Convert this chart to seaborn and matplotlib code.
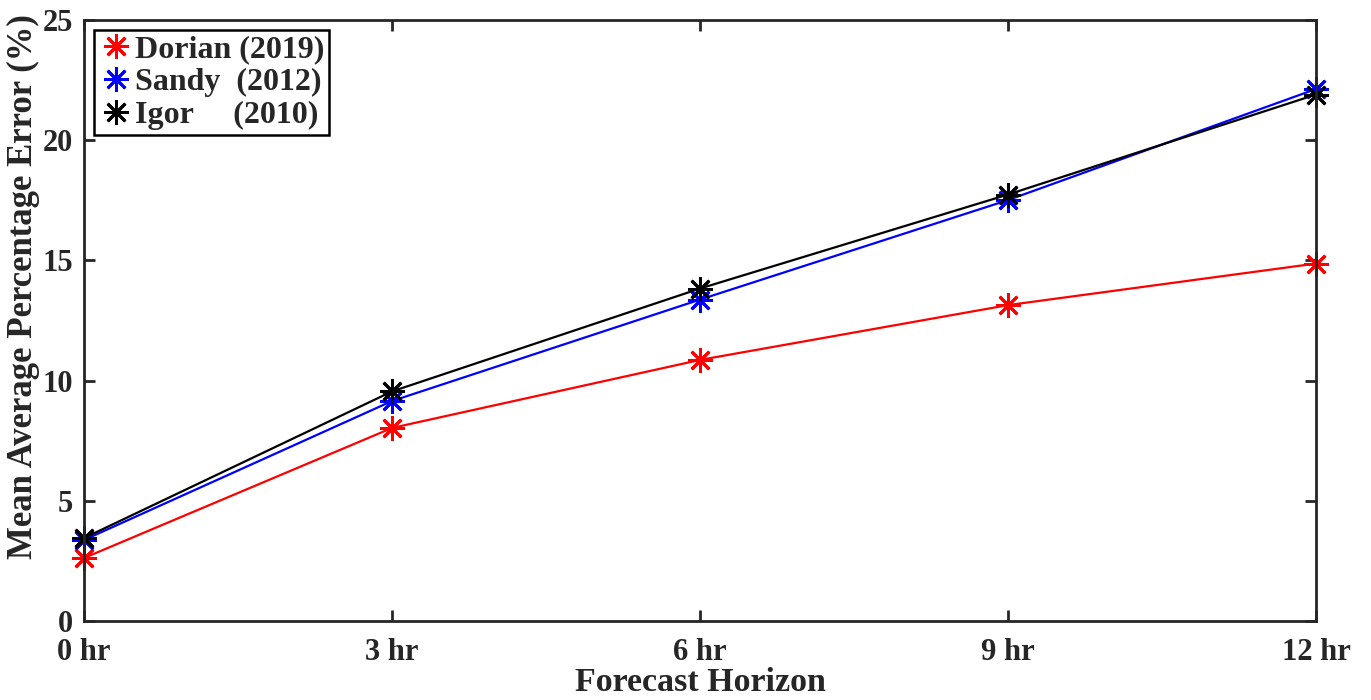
import matplotlib
matplotlib.use("Agg")
import matplotlib.pyplot as plt
import seaborn as sns
import pandas as pd

# Forecast horizons (hours) and their tick labels
horizons = [0, 3, 6, 9, 12]
horizon_labels = ["0 hr", "3 hr", "6 hr", "9 hr", "12 hr"]

# Mean average percentage error (%) per hurricane
dorian = [2.62, 8.03, 10.86, 13.14, 14.87]
sandy = [3.37, 9.15, 13.37, 17.51, 22.13]
igor = [3.45, 9.55, 13.83, 17.74, 21.90]

series_names = ["Dorian (2019)", "Sandy  (2012)", "Igor     (2010)"]
series_colors = ["#ff0000", "#0000ff", "#000000"]

df = pd.concat([
    pd.DataFrame({"horizon": horizons, "mape": vals, "storm": name})
    for name, vals in zip(series_names, [dorian, sandy, igor])
], ignore_index=True)

sns.set_theme(style="white")
plt.rcParams["font.family"] = ["Liberation Serif", "DejaVu Serif"]
plt.rcParams["font.weight"] = "bold"

fig = plt.figure(figsize=(13.71, 7.0), dpi=100)
ax = fig.add_axes([0.0613, 0.1129, 0.8986, 0.8585])

asterisk = (8, 2, 0)
sns.lineplot(data=df, x="horizon", y="mape", hue="storm",
             hue_order=series_names, palette=series_colors,
             marker=asterisk, markersize=18, markeredgewidth=2.0,
             linewidth=1.6, ax=ax, legend=True)

# asterisk markers are edge-only, so colour their edges like the lines
for line in ax.lines:
    c = line.get_color()
    line.set_markeredgecolor(c)
    line.set_markerfacecolor(c)
    line.set_clip_on(False)

ax.set_xlim(0, 12)
ax.set_ylim(0, 25)
ax.set_xticks(horizons)
ax.set_xticklabels(horizon_labels)
ax.set_yticks([0, 5, 10, 15, 20, 25])

axis_color = "#262626"
for side in ["left", "right", "top", "bottom"]:
    ax.spines[side].set_visible(True)
    ax.spines[side].set_color(axis_color)
    ax.spines[side].set_linewidth(2.0)

ax.tick_params(axis="both", direction="in", length=8, width=2.0,
               color=axis_color, labelsize=22, labelcolor=axis_color,
               top=True, right=True, bottom=True, left=True,
               labeltop=False, labelright=False)
ax.tick_params(axis="x", pad=12)
ax.tick_params(axis="y", pad=8)
for lbl in ax.get_xticklabels() + ax.get_yticklabels():
    lbl.set_fontweight("bold")

ax.set_xlabel("Forecast Horizon", fontsize=24.5, fontweight="bold",
              color=axis_color, labelpad=0)
ax.set_ylabel("Mean Average Percentage Error (%)", fontsize=25,
              fontweight="bold", color=axis_color)
ax.yaxis.set_label_coords(-0.036, 0.556)

# Legend with marker-only handles
handles, labels = ax.get_legend_handles_labels()
for h in handles:
    h.set_linestyle("none")
    h.set_markeredgecolor(h.get_color())
leg = ax.legend(handles, labels, loc="upper left", frameon=True,
                fancybox=False, edgecolor="#000000", framealpha=1,
                prop={"family": "Liberation Serif", "weight": "bold", "size": 23},
                handlelength=1.1, handletextpad=0.05, borderpad=0.15,
                labelspacing=0.12, borderaxespad=0.3)
leg.get_frame().set_linewidth(1.8)

fig.savefig("out.png", dpi=100)
